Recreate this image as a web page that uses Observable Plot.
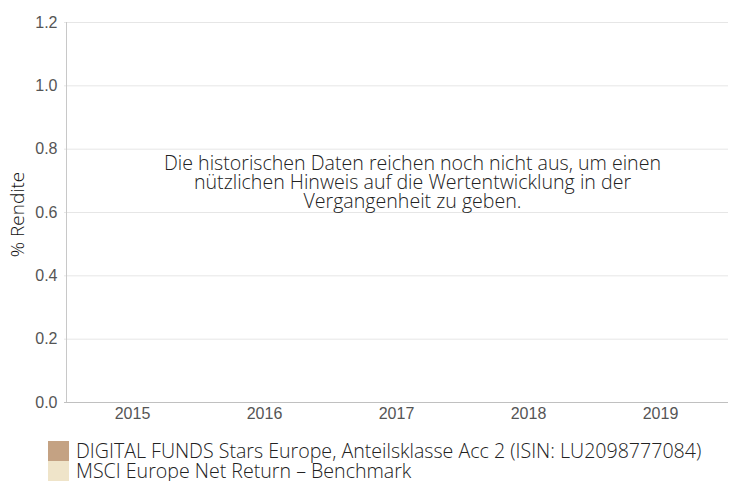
<!DOCTYPE html>
<html><head><meta charset="utf-8">
<script src="https://cdn.jsdelivr.net/npm/d3@7"></script>
<script src="https://cdn.jsdelivr.net/npm/@observablehq/plot@0.6"></script>
<style>
body{margin:0;background:#fff;}
#legend{margin-left:48px;margin-top:9px;font-family:"Open Sans",sans-serif;font-weight:300;font-size:19.6px;color:#222;}
.item{display:flex;align-items:center;height:20px;line-height:20px;white-space:nowrap;}
.sw{width:21px;height:20px;margin-right:7px;flex:none;}
</style></head>
<body>
<div id="chart"></div>
<div id="legend"></div>
<script>
const years = ["2015","2016","2017","2018","2019"];
const seriesNames = ["DIGITAL FUNDS Stars Europe, Anteilsklasse Acc 2 (ISIN: LU2098777084)", "MSCI Europe Net Return – Benchmark"];
const seriesColors = ["#c4a283", "#efe4c9"];
const fundValues = [null, null, null, null, null];
const benchValues = [null, null, null, null, null];
const yTicks = [0, 0.2, 0.4, 0.6, 0.8, 1.0, 1.2];
const message = "Die historischen Daten reichen noch nicht aus, um einen\nnützlichen Hinweis auf die Wertentwicklung in der\nVergangenheit zu geben.";

const rows = [];
years.forEach((y, i) => {
  if (fundValues[i] != null) rows.push({year: y, series: seriesNames[0], value: fundValues[i]});
  if (benchValues[i] != null) rows.push({year: y, series: seriesNames[1], value: benchValues[i]});
});

const plot = Plot.plot({
  width: 740,
  height: 432,
  marginLeft: 64,
  marginRight: 12,
  marginTop: 22,
  marginBottom: 30,
  style: {fontFamily: "'Liberation Sans', Arial, sans-serif", fontSize: "16px", color: "#555"},
  x: {domain: years, padding: 0, label: null, tickSize: 0, tickPadding: 6},
  y: {domain: [0, 1.2], ticks: yTicks, tickFormat: d3.format(".1f"), label: null, tickSize: 0, tickPadding: 7},
  color: {domain: seriesNames, range: seriesColors},
  marks: [
    Plot.gridY(yTicks, {stroke: "#e6e6e6", strokeOpacity: 1}),
    Plot.barY(rows, {x: "year", y: "value", fill: "series"}),
    Plot.ruleX([0], {x: () => years[0], stroke: "#c8c8c8", y1: 0, y2: 1.2, dx: -66}),
    Plot.ruleY([0], {stroke: "#c0c0c0"}),
    Plot.axisY({ticks: yTicks, tickFormat: d3.format(".1f"), tickSize: 0, tickPadding: 7, label: null, fill: "#555", fontSize: 16}),
    Plot.axisX({tickSize: 0, tickPadding: 5, label: null, fill: "#555", fontSize: 16}),
    Plot.text([message], {x: () => years[2], y: () => 0.7, text: d => d, dx: 16, dy: 2, fontFamily: "'Open Sans', sans-serif", fontWeight: 300, fontSize: 19.6, fill: "#222", lineHeight: 0.98, textAnchor: "middle"}),
    Plot.text(["% Rendite"], {frameAnchor: "left", textAnchor: "middle", text: d => d, rotate: -90, dx: -47, dy: 2, fontFamily: "'Open Sans', sans-serif", fontWeight: 300, fontSize: 19, fill: "#111"})
  ]
});
document.getElementById("chart").appendChild(plot);

const leg = document.getElementById("legend");
seriesNames.forEach((n, i) => {
  const it = document.createElement("div");
  it.className = "item";
  const sw = document.createElement("div");
  sw.className = "sw";
  sw.style.background = seriesColors[i];
  const t = document.createElement("span");
  t.textContent = n;
  it.appendChild(sw); it.appendChild(t);
  leg.appendChild(it);
});
</script>
</body></html>
